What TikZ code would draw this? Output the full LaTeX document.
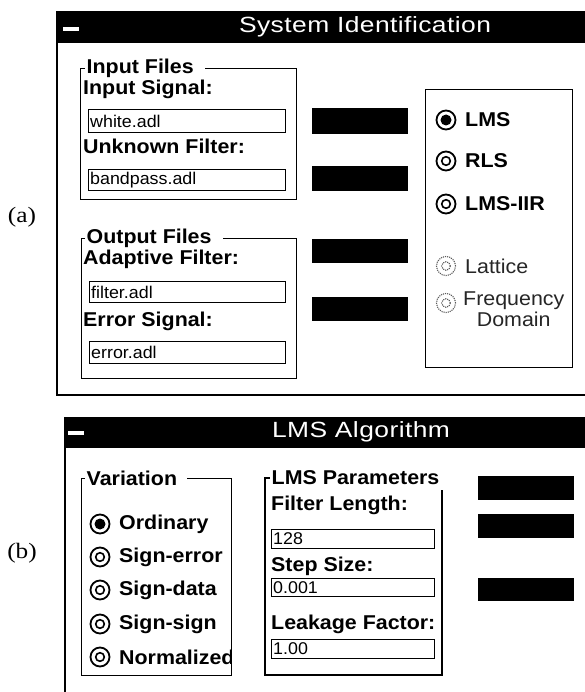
\documentclass[tikz,border=0pt]{standalone}
\usepackage{fontspec}
\setmainfont{Liberation Sans}
\newfontfamily\uisans[FakeStretch=1.07]{Liberation Sans}
\newfontfamily\uifield[FakeStretch=1.05]{Liberation Sans}
\newfontfamily\uititle[FakeStretch=1.2,LetterSpace=2]{Liberation Sans}
\newfontfamily\uiserif[FakeStretch=1.15]{Liberation Serif}
\tikzset{
  bar/.style={fill=black, draw=none, inner sep=0, anchor=north west},
  btn/.style={fill=black, draw=none, inner sep=0, anchor=north west, minimum width=96pt},
  grp/.style={draw, line width=1.1pt, inner sep=0, anchor=north west},
  grplabel/.style={fill=white, inner sep=1.5pt, anchor=west, font=\uisans\bfseries\fontsize{20}{23}\selectfont},
  lbl/.style={anchor=west, inner sep=0, font=\uisans\bfseries\fontsize{20}{23}\selectfont},
  rlbl/.style={anchor=west, inner sep=0, font=\uisans\fontsize{20}{23}\selectfont, text=black!85},
  field/.style={draw, line width=0.9pt, inner sep=0, anchor=north west},
  ftext/.style={anchor=west, inner sep=0, font=\uifield\fontsize{17}{20}\selectfont},
  rad/.style={circle, draw, line width=1.8pt, minimum size=19pt, inner sep=0},
  raddis/.style={circle, draw=black!65, line width=1.1pt, densely dotted, minimum size=19pt, inner sep=0},
  ttl/.style={text=white, font=\uititle\fontsize{22}{25}\selectfont, inner sep=0},
  minus/.style={fill=white, minimum width=16pt, minimum height=4pt, inner sep=0},
  side/.style={font=\uiserif\fontsize{22}{26}\selectfont, inner sep=0},
  wline/.style={line width=1.2pt},
}
\begin{document}
\begin{tikzpicture}[x=1pt,y=-1pt]
\useasboundingbox[fill=white] (0,0) rectangle (585,692);

% ---------------- Window (a) ----------------
\node[bar, minimum width=529pt, minimum height=32pt] (tbA) at (56,11) {};
\node[ttl] (ttlA) at (365,27) {System Identification};
\node[minus] (minA) at (71,29) {};
\coordinate (wA1) at (57,395);
\coordinate (wA2) at (585,395);
\draw[wline] ([xshift=1pt]tbA.south west) -- (wA1) -- (wA2);
\node[side] (labA) at (22,217) {(a)};

% Input Files
\node[grp, minimum width=216pt, minimum height=131pt] (gIn) at (80,68) {};
\node[grplabel] (gInL) at (85,68) {Input Files\hspace*{10pt}};
\node[lbl] (lInSig) at (83,89) {Input Signal:};
\node[field, minimum width=197pt, minimum height=23pt] (fWhite) at (88,109) {};
\node[ftext] (tWhite) at ([xshift=2pt]fWhite.west) {white.adl};
\node[lbl] (lUnk) at (83,146) {Unknown Filter:};
\node[field, minimum width=197pt, minimum height=21pt] (fBand) at (88,169) {};
\node[ftext] (tBand) at ([xshift=2pt]fBand.west) {bandpass.adl};

% Output Files
\node[grp, minimum width=215pt, minimum height=140pt] (gOut) at (81,238) {};
\node[grplabel] (gOutL) at (85,238) {Output Files\hspace*{10pt}};
\node[lbl] (lAdapt) at (83,259) {Adaptive Filter:};
\node[field, minimum width=196pt, minimum height=21pt] (fFilt) at (89,281) {};
\node[ftext] (tFilt) at ([xshift=2pt]fFilt.west) {filter.adl};
\node[lbl] (lErr) at (83,321) {Error Signal:};
\node[field, minimum width=196pt, minimum height=22pt] (fErr) at (89,341) {};
\node[ftext] (tErr) at ([xshift=2pt]fErr.west) {error.adl};

% black buttons (a)
\node[btn, minimum height=26pt] (bA1) at (312,108) {};
\node[btn, minimum height=25pt] (bA2) at (312,166) {};
\node[btn, minimum height=24pt] (bA3) at (312,239) {};
\node[btn, minimum height=24pt] (bA4) at (312,297) {};

% Algorithm radio box
\node[grp, minimum width=147pt, minimum height=278pt] (gRad) at (425,89) {};
\node[rad] (rLMS) at (446,120) {};
\fill (rLMS.center) circle (5.5pt);
\node[lbl] (tLMS) at (465,120) {LMS};
\node[rad] (rRLS) at (446,161) {};
\draw[line width=1.6pt] (rRLS.center) circle (4.3pt);
\node[lbl] (tRLS) at (465,161) {RLS};
\node[rad] (rIIR) at (446,204) {};
\draw[line width=1.6pt] (rIIR.center) circle (4.3pt);
\node[lbl] (tIIR) at (465,204) {LMS-IIR};
\node[raddis] (rLat) at (446,266) {};
\draw[black!65, line width=1.1pt, densely dotted] (rLat.center) circle (4.3pt);
\node[rlbl] (tLat) at (465,266) {Lattice};
\node[raddis] (rFreq) at (446,303) {};
\draw[black!65, line width=1.1pt, densely dotted] (rFreq.center) circle (4.3pt);
\node[rlbl, anchor=north west, align=center] (tFreq) at (463,292) {Frequency\\[-2pt]Domain};

% ---------------- Window (b) ----------------
\node[bar, minimum width=521pt, minimum height=31pt] (tbB) at (64,417) {};
\node[ttl] (ttlB) at (361,432) {LMS Algorithm};
\node[minus] (minB) at (76,433) {};
\coordinate (wB1) at (65,692);
\draw[wline] ([xshift=1pt]tbB.south west) -- (wB1);
\node[side] (labB) at (22,553) {(b)};

% Variation
\node[grp, minimum width=150pt, minimum height=197pt] (gVar) at (81,478) {};
\node[grplabel] (gVarL) at (85,478) {Variation\hspace*{8pt}};
\node[rad] (rOrd) at (100,524) {};
\fill (rOrd.center) circle (5.5pt);
\node[lbl] (tOrd) at (119,524) {Ordinary};
\node[rad] (rSe) at (100,557) {};
\draw[line width=1.6pt] (rSe.center) circle (4.3pt);
\node[lbl] (tSe) at (119,557) {Sign-error};
\node[rad] (rSd) at (100,590) {};
\draw[line width=1.6pt] (rSd.center) circle (4.3pt);
\node[lbl] (tSd) at (119,590) {Sign-data};
\node[rad] (rSs) at (100,624) {};
\draw[line width=1.6pt] (rSs.center) circle (4.3pt);
\node[lbl] (tSs) at (119,624) {Sign-sign};
\node[rad] (rNo) at (100,657) {};
\draw[line width=1.6pt] (rNo.center) circle (4.3pt);
\begin{scope}
\clip (82,640) rectangle (231,675);
\node[lbl] (tNo) at (119,657) {Normalized};
\end{scope}

% LMS Parameters
\coordinate (pA) at (442,490);
\coordinate (pB) at (442,675);
\coordinate (pC) at (265,675);
\coordinate (pD) at (265,478);
\coordinate (pE) at (272,478);
\draw[line width=1.1pt] (pA) -- (pB) -- (pC) -- (pD) -- (pE);
\node[grplabel] (gParL) at (270,478) {LMS Parameters};
\node[lbl] (lFL) at (271,505) {Filter Length:};
\node[field, minimum width=163pt, minimum height=19pt] (fFL) at (271,529) {};
\node[ftext] (tFL) at ([xshift=2pt]fFL.west) {128};
\node[lbl] (lSS) at (271,566) {Step Size:};
\node[field, minimum width=163pt, minimum height=18pt] (fSS) at (271,578) {};
\node[ftext] (tSS) at ([xshift=2pt]fSS.west) {0.001};
\node[lbl] (lLF) at (271,624) {Leakage Factor:};
\node[field, minimum width=163pt, minimum height=19pt] (fLF) at (271,639) {};
\node[ftext] (tLF) at ([xshift=2pt]fLF.west) {1.00};

% black buttons (b)
\node[btn, minimum height=24pt] (bB1) at (478,476) {};
\node[btn, minimum height=24pt] (bB2) at (478,514) {};
\node[btn, minimum height=23pt] (bB3) at (478,578) {};
\end{tikzpicture}
\end{document}
